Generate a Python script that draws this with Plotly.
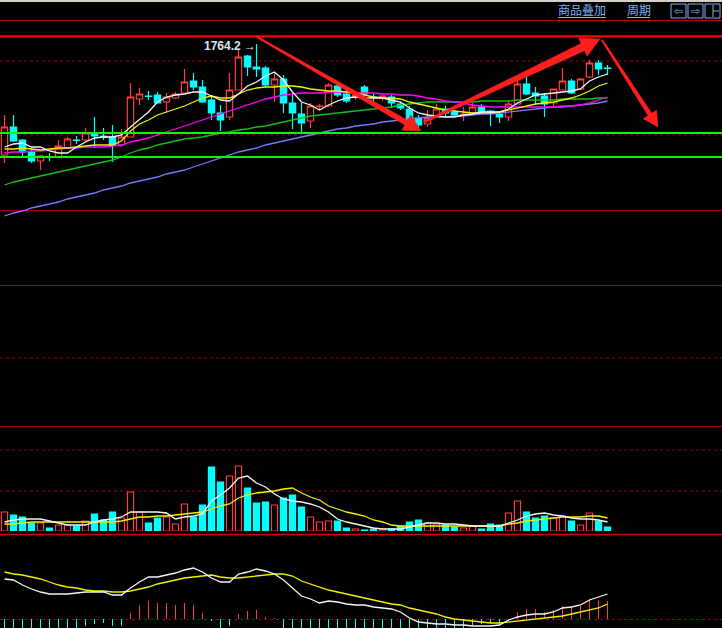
import math
import plotly.graph_objects as go

W, H = 722, 628

# ---------------- data ----------------
opens = [1708.7, 1722.7, 1716.2, 1710.2, 1705.7, 1707.7, 1707.7, 1712.2, 1716.2, 1716.2,
         1719.2, 1718.2, 1717.7, 1713.7, 1717.7, 1736.7, 1738.2, 1738.7, 1735.2, 1737.2,
         1739.7, 1745.7, 1742.7, 1736.2, 1729.7, 1727.7, 1741.2, 1758.2, 1752.7, 1752.2,
         1743.7, 1746.7, 1734.7, 1729.2, 1725.7, 1733.0, 1733.2, 1743.2, 1739.2, 1737.7,
         1742.7, 1737.7, 1737.2, 1737.7, 1734.2, 1731.7, 1727.2, 1724.2, 1727.7, 1731.7,
         1730.2, 1728.7, 1729.7, 1732.7, 1730.7, 1729.2, 1727.7, 1734.2, 1744.2, 1739.7,
         1738.2, 1734.7, 1741.2, 1745.7, 1741.7, 1747.7, 1754.7, 1752.2]
highs = [1728.7, 1728.7, 1716.7, 1712.2, 1708.7, 1709.7, 1716.2, 1717.7, 1718.2, 1722.2,
         1727.7, 1722.2, 1723.7, 1721.7, 1744.7, 1742.2, 1740.7, 1740.2, 1739.7, 1740.2,
         1751.7, 1749.7, 1746.2, 1738.7, 1733.7, 1749.7, 1761.2, 1758.7, 1764.2, 1753.2,
         1749.7, 1748.7, 1739.7, 1734.7, 1734.7, 1734.2, 1744.7, 1744.2, 1741.2, 1740.2,
         1743.7, 1739.2, 1739.2, 1738.7, 1735.7, 1733.2, 1728.7, 1731.2, 1734.2, 1733.2,
         1731.2, 1732.7, 1734.7, 1734.2, 1731.2, 1730.2, 1735.2, 1746.2, 1747.7, 1742.7,
         1739.7, 1741.7, 1752.2, 1746.7, 1747.2, 1756.2, 1756.2, 1753.7]
lows = [1704.7, 1715.2, 1707.7, 1704.7, 1701.2, 1705.7, 1707.2, 1711.7, 1714.2, 1715.2,
        1712.2, 1716.2, 1705.2, 1712.7, 1717.7, 1733.7, 1736.2, 1734.7, 1729.7, 1736.7,
        1739.7, 1741.2, 1734.7, 1726.2, 1720.7, 1726.2, 1741.2, 1748.2, 1747.7, 1742.7,
        1735.2, 1729.7, 1721.7, 1719.7, 1722.2, 1731.2, 1732.7, 1737.7, 1734.7, 1736.2,
        1737.7, 1735.7, 1735.7, 1732.2, 1731.2, 1725.7, 1722.2, 1722.7, 1727.7, 1727.7,
        1727.7, 1725.7, 1728.7, 1729.2, 1723.2, 1724.7, 1725.7, 1734.2, 1738.7, 1733.7,
        1727.7, 1733.2, 1741.2, 1739.2, 1741.2, 1747.2, 1748.7, 1748.7]
closes = [1722.7, 1715.7, 1710.2, 1705.7, 1708.2, 1707.5, 1713.2, 1716.7, 1716.0, 1719.7,
          1718.2, 1717.5, 1713.7, 1717.7, 1737.7, 1739.2, 1738.0, 1734.7, 1737.7, 1739.2,
          1745.2, 1742.7, 1735.2, 1729.7, 1726.2, 1741.2, 1757.7, 1752.7, 1751.7, 1743.7,
          1746.7, 1734.7, 1729.7, 1724.7, 1733.2, 1733.2, 1743.7, 1738.7, 1735.7, 1738.7,
          1739.2, 1737.5, 1738.2, 1734.7, 1732.2, 1726.7, 1723.7, 1727.2, 1731.7, 1729.7,
          1728.7, 1729.2, 1732.7, 1730.2, 1729.7, 1727.7, 1734.2, 1744.2, 1739.2, 1738.2,
          1734.2, 1741.7, 1745.7, 1739.7, 1746.7, 1754.7, 1751.7, 1752.0]

ma5 = [1712.7, 1714.2, 1714.7, 1712.7, 1712.7, 1710.7, 1709.7, 1709.7, 1712.7, 1715.2,
       1717.2, 1717.7, 1717.7, 1718.7, 1722.7, 1726.7, 1730.2, 1735.2, 1737.7, 1738.7,
       1739.2, 1740.2, 1740.2, 1738.2, 1736.2, 1735.7, 1739.2, 1743.2, 1745.2, 1748.2,
       1750.2, 1746.2, 1740.2, 1735.2, 1733.7, 1731.2, 1733.7, 1735.7, 1737.2, 1737.7,
       1737.2, 1737.2, 1737.2, 1736.2, 1735.2, 1732.2, 1729.7, 1728.7, 1728.2, 1727.7,
       1727.7, 1728.7, 1729.2, 1730.2, 1730.2, 1730.2, 1731.7, 1734.7, 1736.7, 1738.7,
       1739.2, 1739.7, 1740.2, 1740.7, 1741.7, 1745.7, 1747.7, 1749.2]
ma10 = [1711.7, 1711.7, 1712.2, 1711.7, 1711.2, 1711.7, 1712.2, 1712.2, 1712.7, 1713.2,
        1713.7, 1713.7, 1713.7, 1715.7, 1720.7, 1724.2, 1726.2, 1728.7, 1730.2, 1731.7,
        1733.2, 1735.2, 1737.2, 1738.2, 1737.2, 1737.2, 1739.2, 1741.2, 1742.2, 1742.7,
        1742.7, 1743.2, 1743.2, 1742.7, 1741.7, 1741.2, 1740.7, 1740.7, 1740.2, 1739.7,
        1738.7, 1737.7, 1737.2, 1737.2, 1736.7, 1735.2, 1734.2, 1733.2, 1732.2, 1731.2,
        1730.7, 1730.2, 1729.7, 1729.7, 1729.7, 1730.2, 1731.2, 1732.2, 1733.2, 1734.2,
        1734.7, 1735.2, 1736.2, 1737.2, 1738.7, 1740.7, 1743.2, 1744.7]
ma20 = [1709.7, 1710.2, 1710.2, 1710.7, 1710.7, 1711.2, 1711.7, 1712.2, 1712.2, 1712.7,
        1712.7, 1712.7, 1713.2, 1713.7, 1715.2, 1716.2, 1717.2, 1718.7, 1720.2, 1721.7,
        1723.2, 1724.7, 1726.2, 1727.7, 1729.2, 1730.7, 1732.2, 1733.7, 1735.2, 1736.7,
        1737.7, 1738.7, 1739.2, 1739.7, 1739.7, 1739.7, 1740.2, 1740.2, 1740.2, 1739.7,
        1739.7, 1739.7, 1739.2, 1739.2, 1738.7, 1738.7, 1738.2, 1737.2, 1736.7, 1735.7,
        1735.2, 1734.7, 1733.7, 1733.2, 1732.7, 1732.7, 1732.7, 1732.7, 1732.7, 1732.7,
        1732.7, 1732.7, 1733.2, 1733.2, 1733.7, 1734.7, 1736.2, 1737.7]
ma40 = [1693.7, 1695.2, 1696.2, 1697.2, 1698.2, 1699.2, 1700.2, 1701.2, 1702.2, 1703.2,
        1704.2, 1705.2, 1706.2, 1707.7, 1709.7, 1711.2, 1712.2, 1713.7, 1714.7, 1715.7,
        1716.7, 1717.2, 1717.7, 1718.7, 1719.7, 1720.2, 1721.2, 1721.7, 1722.7, 1723.2,
        1724.2, 1725.2, 1726.2, 1727.2, 1728.2, 1728.7, 1729.2, 1729.7, 1730.2, 1730.7,
        1731.2, 1731.7, 1732.2, 1732.7, 1733.7, 1734.2, 1734.7, 1735.2, 1735.2, 1735.2,
        1735.2, 1735.2, 1735.2, 1735.7, 1735.7, 1735.7, 1735.7, 1736.2, 1736.2, 1736.2,
        1736.2, 1736.2, 1736.7, 1736.7, 1736.7, 1736.7, 1737.2, 1737.2]
ma60 = [1678.2, 1679.7, 1680.7, 1682.2, 1683.2, 1684.2, 1685.2, 1686.7, 1687.7, 1688.7,
        1689.7, 1691.2, 1692.2, 1693.2, 1694.7, 1695.7, 1696.7, 1697.7, 1699.2, 1700.2,
        1701.2, 1702.7, 1704.2, 1705.7, 1707.2, 1708.7, 1710.2, 1711.2, 1712.2, 1713.7,
        1714.7, 1715.7, 1716.7, 1717.7, 1718.7, 1719.7, 1720.7, 1721.7, 1722.2, 1723.2,
        1723.7, 1724.2, 1725.2, 1725.7, 1726.2, 1726.7, 1727.2, 1727.7, 1727.7, 1727.7,
        1728.2, 1728.2, 1728.7, 1729.2, 1729.2, 1729.7, 1730.2, 1730.7, 1731.2, 1731.7,
        1732.2, 1732.7, 1732.7, 1733.2, 1733.7, 1734.2, 1734.7, 1735.7]

volume = [1900, 1600, 1400, 800, 800, 300, 600, 600, 500, 1000, 1700, 1100, 1900, 1300,
          3900, 1900, 800, 1300, 1400, 700, 2700, 1400, 2600, 6400, 4900, 5500, 6500, 4300,
          2800, 2900, 2600, 3300, 3600, 2400, 1400, 900, 1000, 1000, 300, 200, 100, 200,
          200, 200, 500, 900, 1100, 800, 700, 600, 400, 300, 500, 200, 700, 600, 1800, 3000,
          1900, 1300, 1500, 1300, 1500, 1000, 600, 1800, 1000, 400]
vol_ma5 = [900, 1100, 1200, 1200, 1200, 1000, 800, 600, 600, 600, 900, 1100, 1200, 1400,
           1900, 1900, 1900, 1900, 1800, 1200, 1400, 1500, 1700, 3000, 3600, 4300, 5300,
           5500, 4800, 4400, 3700, 3200, 3000, 2900, 2700, 2400, 1900, 1200, 900, 700, 500,
           300, 200, 200, 200, 400, 600, 800, 800, 700, 700, 600, 500, 500, 500, 500, 800,
           1100, 1500, 1700, 1800, 1600, 1500, 1300, 1200, 1200, 1100, 900]
vol_ma10 = [700, 700, 800, 900, 900, 900, 900, 900, 900, 900, 900, 900, 900, 1000, 1200,
            1400, 1400, 1500, 1500, 1600, 1700, 1800, 1900, 2200, 2500, 2700, 3300, 3600,
            3800, 3900, 4000, 4200, 4300, 3800, 3400, 3100, 2500, 2200, 1900, 1700, 1500,
            1100, 900, 600, 500, 500, 500, 500, 500, 500, 500, 500, 500, 500, 500, 500, 700,
            800, 1000, 1100, 1200, 1300, 1400, 1400, 1400, 1500, 1500, 1300]

dif = [20, 19.5, 17, 15, 13.5, 12.5, 12.5, 12.5, 13, 13.5, 13.5, 13.5, 12, 12, 15.5, 18.5,
       21, 21, 22, 23, 24.5, 25.5, 23.5, 20.5, 18.5, 18.5, 22.5, 23.5, 25, 24, 22.5, 19.5,
       15.5, 11.5, 10, 8, 9, 8.5, 7.5, 7, 7, 6, 5.5, 5, 3.5, 0.5, -1.5, -2, -2.5, -2.5, -3,
       -3, -3.5, -3.5, -3.5, -3, -0.5, 1, 2, 2.5, 2.5, 3.5, 5.5, 6, 7, 9.5, 11, 12.5]
dea = [23.5, 22.5, 22, 21, 20, 18.5, 17, 16, 15.5, 14.5, 14, 14, 13.5, 13.5, 14, 15, 16,
       17.5, 18.5, 19.5, 20.5, 21, 21.5, 22, 21, 20.5, 20.5, 21, 21.5, 22, 22.5, 22.5, 21.5,
       19, 17.5, 16, 14.5, 13.5, 12.5, 11.5, 10.5, 9.5, 8.5, 7.5, 7, 5.5, 4.5, 3.5, 2.5, 1,
       0, -0.5, -1, -1.5, -2, -2, -1.5, -1, -0.5, 0, 0.5, 1, 1.5, 2.5, 3.5, 4.5, 5.5, 7.5]
macd_hist = [-7, -6, -10, -12, -13, -12, -9, -7, -5, -3.5, -2.5, -1.75, -3.5, -3.5, 3, 7, 9,
             8, 8, 7, 8, 7, 3, -0.75, -5, -3.5, 2.5, 4, 4.5, 1.25, 0.5, -6, -10, -14, -15,
             -16, -11, -10, -10, -9, -8, -7, -6, -5, -6, -8, -9, -8, -7, -6, -5, -4.5, -3,
             -2.5, -2, -2.5, -0.75, 3.5, 5, 5, 3.5, 4.5, 6.5, 6, 6.5, 10, 9.5, 9]

high_label = "1764.2"
resist_level = 1768.0
support_levels = [1719.7, 1707.7]

n = len(closes)
for arr in (opens, highs, lows, ma5, ma10, ma20, ma40, ma60, volume, vol_ma5, vol_ma10,
            dif, dea, macd_hist):
    assert len(arr) == n, len(arr)
idx = list(range(n))

# ---------------- styling ----------------
RED = "#ff3c3c"
CYAN = "#00ffff"
DARKRED = "#a00000"


def py(pix):
    return 1 - pix / H


def px(pix):
    return pix / W


fig = go.Figure()

fig.add_trace(go.Candlestick(
    x=idx, open=opens, high=highs, low=lows, close=closes,
    increasing=dict(line=dict(color=RED, width=1.2), fillcolor="#000000"),
    decreasing=dict(line=dict(color=CYAN, width=1.2), fillcolor=CYAN),
    whiskerwidth=0, xaxis="x", yaxis="y", hoverinfo="skip"))

for vals, col in [(ma60, "#7878ff"), (ma40, "#10c010"), (ma20, "#ff00ff"),
                  (ma10, "#f0f000"), (ma5, "#f4f4f4")]:
    fig.add_trace(go.Scatter(x=idx, y=vals, mode="lines", line=dict(color=col, width=1.3),
                             xaxis="x", yaxis="y", hoverinfo="skip"))

up = [c > o for o, c in zip(opens, closes)]
fig.add_trace(go.Bar(
    x=idx, y=volume, width=0.68, xaxis="x", yaxis="y2",
    marker=dict(color=["#000000" if u else CYAN for u in up],
                line=dict(color=[RED if u else CYAN for u in up], width=1.2)),
    hoverinfo="skip"))
fig.add_trace(go.Scatter(x=idx, y=vol_ma10, mode="lines", line=dict(color="#f0f000", width=1.3),
                         xaxis="x", yaxis="y2", hoverinfo="skip"))
fig.add_trace(go.Scatter(x=idx, y=vol_ma5, mode="lines", line=dict(color="#f4f4f4", width=1.3),
                         xaxis="x", yaxis="y2", hoverinfo="skip"))

fig.add_trace(go.Bar(
    x=idx, y=macd_hist, width=0.14, xaxis="x", yaxis="y3",
    marker=dict(color=[RED if v > 0 else CYAN for v in macd_hist], line=dict(width=0)),
    hoverinfo="skip"))
fig.add_trace(go.Scatter(x=idx, y=dea, mode="lines", line=dict(color="#f0f000", width=1.3),
                         xaxis="x", yaxis="y3", hoverinfo="skip"))
fig.add_trace(go.Scatter(x=idx, y=dif, mode="lines", line=dict(color="#f4f4f4", width=1.3),
                         xaxis="x", yaxis="y3", hoverinfo="skip"))

# axes: pixel layout of the panes
x_first_pix, bar_step = 4.5, 9.0
xr = [(0 - x_first_pix) / bar_step, (W - x_first_pix) / bar_step]
main_top, main_bot = 20, 426
main_price_top = 1776.2
main_px_per_unit = 2.0  # pixels per price unit
main_range = [main_price_top - (main_bot - main_top) / main_px_per_unit, main_price_top]
vol_top, vol_bot = 450, 531
vol_range = [0, (vol_bot - vol_top) * 100]
macd_top, macd_bot, macd_zero = 536, 628, 619
macd_range = [(macd_zero - macd_bot) * 0.5, (macd_zero - macd_top) * 0.5]

hidden = dict(visible=False, showgrid=False, zeroline=False, fixedrange=True)
fig.update_layout(
    width=W, height=H, margin=dict(l=0, r=0, t=0, b=0),
    paper_bgcolor="#000000", plot_bgcolor="#000000", showlegend=False,
    hovermode=False, bargap=0, boxgap=0.3, boxgroupgap=0,
    xaxis=dict(range=xr, domain=[0, 1], rangeslider=dict(visible=False), anchor="y", **hidden),
    yaxis=dict(range=main_range, domain=[py(main_bot), py(main_top)], **hidden),
    yaxis2=dict(range=vol_range, domain=[py(vol_bot), py(vol_top)], anchor="x", **hidden),
    yaxis3=dict(range=macd_range, domain=[py(macd_bot), py(macd_top)], anchor="x", **hidden),
)

shapes = []
# top light strip
shapes.append(dict(type="rect", xref="paper", yref="paper", x0=0, x1=1, y0=py(2), y1=1,
                   fillcolor="#d4d0c8", line=dict(width=0), layer="above"))


def hline(pix, color, width=1, dash="solid", layer="below"):
    shapes.append(dict(type="line", xref="paper", yref="paper", x0=0, x1=1, y0=py(pix),
                       y1=py(pix), line=dict(color=color, width=width, dash=dash), layer=layer))


hline(20.5, "#c00000", 1.2)
for p in (61, 135, 358):
    hline(p, DARKRED, 1, "dot")
for p in (210.5, 285.5, 426.5):
    hline(p, DARKRED, 1)
for p in (450, 491):
    hline(p, DARKRED, 1, "dot")
hline(534.5, "#d00000", 1.5)
hline(619.5, DARKRED, 1, "dot")

# price-level lines
shapes.append(dict(type="line", xref="paper", yref="y", x0=0, x1=1, y0=resist_level,
                   y1=resist_level, line=dict(color="#ff0000", width=2.2), layer="above"))
for lv in support_levels:
    shapes.append(dict(type="line", xref="paper", yref="y", x0=0, x1=1, y0=lv, y1=lv,
                       line=dict(color="#00ff00", width=2.2), layer="above"))


def arrow(tail, tip, w0, w1, hl, hw, color="#ff1e1e"):
    tx, ty = tail
    qx, qy = tip
    dx, dy = qx - tx, qy - ty
    L = math.hypot(dx, dy)
    ux, uy = dx / L, dy / L
    nx, ny = -uy, ux
    bx, by = qx - ux * hl, qy - uy * hl
    pts = [(tx + nx * w0 / 2, ty + ny * w0 / 2), (bx + nx * w1 / 2, by + ny * w1 / 2),
           (bx + nx * hw, by + ny * hw), (qx, qy), (bx - nx * hw, by - ny * hw),
           (bx - nx * w1 / 2, by - ny * w1 / 2), (tx - nx * w0 / 2, ty - ny * w0 / 2)]
    path = "M " + " L ".join(f"{px(a):.5f},{py(b):.5f}" for a, b in pts) + " Z"
    shapes.append(dict(type="path", xref="paper", yref="paper", path=path,
                       fillcolor=color, line=dict(color=color, width=0.5), layer="above"))


arrow((257, 37), (421, 131), 1.5, 5.5, 17, 9)
arrow((424, 122), (600, 39), 2, 8, 19, 10)
arrow((602, 40), (658, 127), 1.5, 4.5, 15, 8)

# header icon boxes
for x0 in (671, 688, 705):
    shapes.append(dict(type="rect", xref="paper", yref="paper", x0=px(x0), x1=px(x0 + 15),
                       y0=py(18), y1=py(4), line=dict(color="#7eb0f0", width=1),
                       fillcolor="rgba(0,0,0,0)", layer="above"))
shapes.append(dict(type="line", xref="paper", yref="paper", x0=px(713), x1=px(713),
                   y0=py(17), y1=py(5), line=dict(color="#7eb0f0", width=1), layer="above"))
shapes.append(dict(type="line", xref="paper", yref="paper", x0=px(713), x1=px(719),
                   y0=py(11), y1=py(11), line=dict(color="#7eb0f0", width=1), layer="above"))
# underline of menu texts
for a, b in ((558, 606), (627, 650)):
    shapes.append(dict(type="line", xref="paper", yref="paper", x0=px(a), x1=px(b),
                       y0=py(17.5), y1=py(17.5), line=dict(color="#7eb0f0", width=1),
                       layer="above"))

fig.update_layout(shapes=shapes)

ann = []
ann.append(dict(x=idx[highs.index(max(highs))], y=max(highs), xref="x", yref="y",
                text=f"<b>{high_label}</b> →", showarrow=False, xanchor="right",
                yanchor="middle", yshift=-2, xshift=1,
                font=dict(family="Liberation Sans, Arial", size=12, color="#dce6f2")))
menu_font = dict(family="Noto Sans CJK SC", size=12, color="#7eb0f0")
ann.append(dict(x=px(582), y=py(10), xref="paper", yref="paper", text="商品叠加",
                showarrow=False, xanchor="center", yanchor="middle", font=menu_font))
ann.append(dict(x=px(638.5), y=py(10), xref="paper", yref="paper", text="周期",
                showarrow=False, xanchor="center", yanchor="middle", font=menu_font))
for cx, t in ((678.5, "⇦"), (695.5, "⇨")):
    ann.append(dict(x=px(cx), y=py(11), xref="paper", yref="paper", text=t, showarrow=False,
                    xanchor="center", yanchor="middle",
                    font=dict(family="DejaVu Sans", size=11, color="#7eb0f0")))
fig.update_layout(annotations=ann)

fig.write_html("out.html", config=dict(displayModeBar=False, staticPlot=True),
               post_script="document.body.style.margin='0';"
                           "document.body.style.background='#000';")
